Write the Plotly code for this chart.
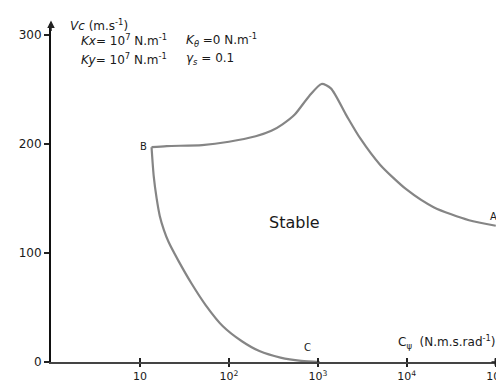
import plotly.graph_objects as go
import numpy as np

# Upper branch B -> peak -> A
upper_x = [13.5, 20, 50, 100, 200, 300, 400, 550, 800, 1100, 1400, 2100, 3000, 5000, 10000, 20000, 50000, 100000]
upper_y = [197, 198, 199, 202, 207, 212, 218, 227, 244, 255, 251, 226, 205, 181, 158, 142, 130, 125]
# Lower branch B -> C
lower_x = [13.5, 14.3, 15.4, 16.7, 18.6, 21, 27, 38, 55, 85, 140, 220, 380, 650, 1050]
lower_y = [197, 170, 150, 134, 121, 110, 93, 72, 52, 33, 19, 10, 4, 1, 0]

x_tickvals = [10, 100, 1000, 10000, 100000]
x_ticktext = ["10", "10<sup>2</sup>", "10<sup>3</sup>", "10<sup>4</sup>", "10<sup>5</sup>"]
y_tickvals = [0, 100, 200, 300]

FONT = "DejaVu Sans, Verdana, sans-serif"
TXT = "#1a1a1a"
curve_col = "#858585"

fig = go.Figure()
fig.add_trace(go.Scatter(x=upper_x, y=upper_y, mode="lines",
                         line=dict(color=curve_col, width=2.2, shape="spline", smoothing=0.7),
                         hoverinfo="skip", showlegend=False))
fig.add_trace(go.Scatter(x=lower_x, y=lower_y, mode="lines",
                         line=dict(color=curve_col, width=2.2, shape="spline", smoothing=0.7),
                         hoverinfo="skip", showlegend=False))
# empty trace so the overlay axis (ticks crossing the x axis) is drawn
fig.add_trace(go.Scatter(x=[], y=[], xaxis="x2", yaxis="y", showlegend=False, hoverinfo="skip"))

ann = []
def txt(x, y, s, xref="x", yref="y", size=12, xanchor="left", yanchor="middle"):
    ann.append(dict(x=x, y=y, xref=xref, yref=yref, text=s, showarrow=False,
                    xanchor=xanchor, yanchor=yanchor,
                    font=dict(family=FONT, size=size, color=TXT)))

txt(np.log10(12.5), 198, "B", xanchor="right", size=10)
txt(np.log10(110000), 133, "A", xanchor="right", size=10)
txt(np.log10(760), 13, "C", xanchor="center", size=10)
txt(np.log10(550), 128, "Stable", xanchor="center", size=16)
txt(np.log10(7500), 18, "C<sub>ψ</sub>  (N.m.s.rad<sup>-1</sup>)", size=12)

# header texts (paper coords)
txt(0.037, 0.997, "<i>Vc</i> (m.s<sup>-1</sup>)", xref="paper", yref="paper", size=12)
txt(0.063, 0.953, "<i>Kx</i>= 10<sup>7</sup> N.m<sup>-1</sup>", xref="paper", yref="paper", size=12)
txt(0.063, 0.897, "<i>Ky</i>= 10<sup>7</sup> N.m<sup>-1</sup>", xref="paper", yref="paper", size=12)
txt(0.295, 0.953, "<i>K<sub>θ</sub></i> =0 N.m<sup>-1</sup>", xref="paper", yref="paper", size=12)
txt(0.295, 0.897, "<i>γ<sub>s</sub></i> = 0.1", xref="paper", yref="paper", size=12)

# axis arrows
ann.append(dict(x=1.0, y=0, xref="paper", yref="paper", ax=-12, ay=0, showarrow=True,
                arrowhead=2, arrowsize=1, arrowwidth=1.5, arrowcolor="#222", text=""))
ann.append(dict(x=0, y=1.01, xref="paper", yref="paper", ax=0, ay=12, showarrow=True,
                arrowhead=2, arrowsize=1, arrowwidth=1.5, arrowcolor="#222", text=""))

fig.update_layout(
    width=504, height=383,
    margin=dict(l=43, r=7, t=16, b=29),
    paper_bgcolor="white", plot_bgcolor="white",
    font=dict(family=FONT, size=12, color=TXT),
    annotations=ann,
    xaxis=dict(type="log", range=[0, 5.07], tickvals=x_tickvals, ticktext=x_ticktext,
               showgrid=False, zeroline=False, showline=True, linecolor="#444", linewidth=2,
               ticks="outside", ticklen=3, tickwidth=1.5, tickcolor="#222",
               tickfont=dict(size=11)),
    xaxis2=dict(type="log", range=[0, 5.07], overlaying="x", side="bottom", anchor="y",
                tickvals=x_tickvals, showticklabels=False, showgrid=False, zeroline=False,
                showline=False, ticks="inside", ticklen=4, tickwidth=1.5, tickcolor="#222"),
    yaxis=dict(range=[0, 310], tickvals=y_tickvals, showgrid=False, zeroline=False,
               showline=True, linecolor="#111", linewidth=2,
               ticks="outside", ticklen=5, tickwidth=1.5, tickcolor="#222",
               tickfont=dict(size=12)),
)

fig.write_html("out.html")
